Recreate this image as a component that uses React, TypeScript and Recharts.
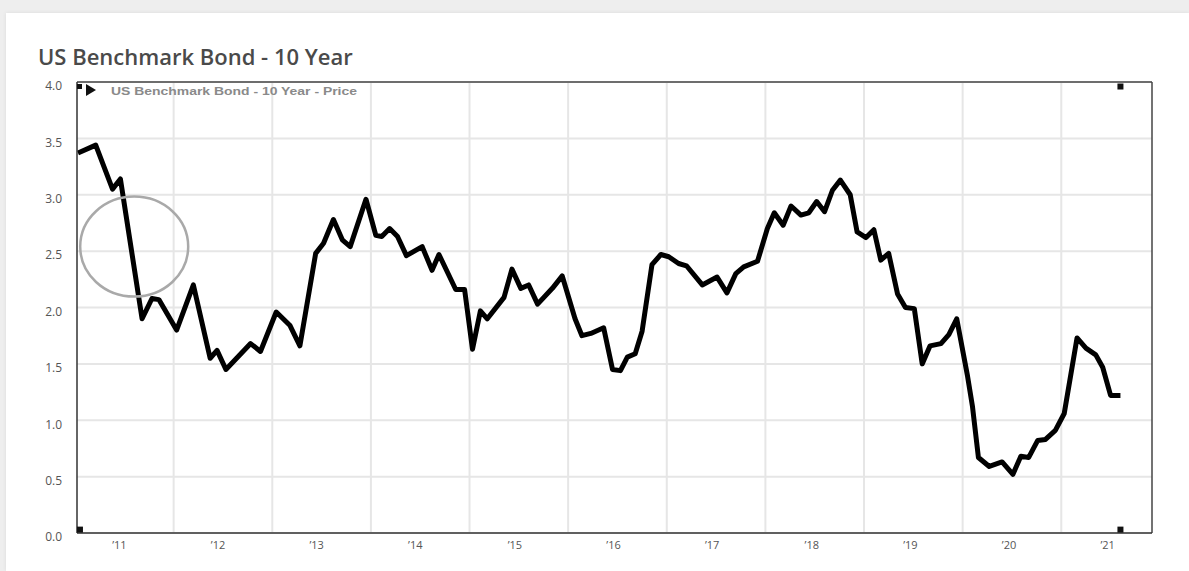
import {
  LineChart,
  Line,
  XAxis,
  YAxis,
  CartesianGrid,
  ReferenceLine,
  ReferenceDot,
  Legend,
} from "recharts";

// decimal year of each reading
const dates = [
  2011.03, 2011.21, 2011.38, 2011.46, 2011.68, 2011.78, 2011.85, 2012.03,
  2012.2, 2012.37, 2012.44, 2012.53, 2012.78, 2012.88, 2013.04, 2013.18,
  2013.28, 2013.44, 2013.52, 2013.62, 2013.71, 2013.79, 2013.95, 2014.05,
  2014.11, 2014.19, 2014.27, 2014.36, 2014.52, 2014.62, 2014.69, 2014.86,
  2014.95, 2015.03, 2015.11, 2015.18, 2015.35, 2015.43, 2015.52, 2015.6,
  2015.69, 2015.84, 2015.94, 2016.07, 2016.14, 2016.23, 2016.36, 2016.45,
  2016.53, 2016.6, 2016.68, 2016.75, 2016.85, 2016.94, 2017.02, 2017.12,
  2017.2, 2017.36, 2017.51, 2017.61, 2017.7, 2017.78, 2017.92, 2018.02,
  2018.09, 2018.18, 2018.26, 2018.36, 2018.44, 2018.52, 2018.6, 2018.68,
  2018.76, 2018.86, 2018.93, 2019.02, 2019.1, 2019.17, 2019.25, 2019.34,
  2019.42, 2019.51, 2019.59, 2019.67, 2019.78, 2019.86, 2019.94, 2020.05,
  2020.1, 2020.16, 2020.27, 2020.4, 2020.51, 2020.59, 2020.67, 2020.76,
  2020.84, 2020.94, 2021.03, 2021.16, 2021.25, 2021.35, 2021.42, 2021.5,
  2021.6,
];

// yield (%)
const prices = [
  3.37, 3.44, 3.05, 3.14, 1.9, 2.08, 2.07, 1.8, 2.2, 1.55, 1.62, 1.45, 1.68,
  1.61, 1.96, 1.84, 1.66, 2.48, 2.57, 2.78, 2.6, 2.54, 2.96, 2.64, 2.63, 2.7,
  2.63, 2.46, 2.54, 2.33, 2.47, 2.16, 2.16, 1.63, 1.97, 1.9, 2.09, 2.34, 2.17,
  2.2, 2.03, 2.17, 2.28, 1.9, 1.75, 1.77, 1.82, 1.45, 1.44, 1.56, 1.59, 1.79,
  2.38, 2.47, 2.45, 2.39, 2.37, 2.2, 2.27, 2.13, 2.3, 2.36, 2.41, 2.7, 2.84,
  2.73, 2.9, 2.82, 2.84, 2.94, 2.85, 3.04, 3.13, 3.0, 2.67, 2.62, 2.69, 2.42,
  2.48, 2.12, 2.0, 1.99, 1.5, 1.66, 1.68, 1.76, 1.9, 1.39, 1.12, 0.67, 0.59,
  0.63, 0.52, 0.68, 0.67, 0.82, 0.83, 0.91, 1.06, 1.73, 1.64, 1.58, 1.47,
  1.22, 1.22,
];

const xDomain = [2011.02, 2021.92];
const yearTicks = [
  2011.45, 2012.45, 2013.45, 2014.45, 2015.46, 2016.46, 2017.46, 2018.47,
  2019.47, 2020.47, 2021.47,
];
const yearLabels = ["’11", "’12", "’13", "’14", "’15", "’16", "’17", "’18", "’19", "’20", "’21"];
const yearLines = [2012, 2013, 2014, 2015, 2016, 2017, 2018, 2019, 2020, 2021];
const yTicks = [0, 0.5, 1, 1.5, 2, 2.5, 3, 3.5, 4];

// highlight ring around the 2011 drop
const highlight = { t: 2011.6, v: 2.54 };

const data = dates.map((t, i) => ({ t, price: prices[i] }));

const square = (p: any) => (
  <rect x={p.cx - 3} y={p.cy - 3} width={6} height={6} fill="#111" />
);

const LegendBox = () => (
  <svg width={300} height={20} style={{ display: "block" }}>
    <rect x={1} y={3} width={5} height={5} fill="#111" />
    <path d="M10 3 L20 9 L10 15 Z" fill="#111" />
    <text
      x={35}
      y={14}
      fontSize={10}
      fontWeight={600}
      fontFamily="Liberation Sans, Arial, sans-serif"
      fill="#8a8a8a"
      textLength={246}
      lengthAdjust="spacingAndGlyphs"
    >
      US Benchmark Bond - 10 Year - Price
    </text>
  </svg>
);

export default function App() {
  return (
    <div
      style={{
        position: "fixed",
        left: 0,
        top: 0,
        width: 1189,
        height: 571,
        background: "#eeeeee",
        overflow: "hidden",
      }}
    >
      <div
        style={{
          position: "absolute",
          left: 6,
          top: 13,
          right: 0,
          bottom: 0,
          background: "#fff",
          boxShadow: "0 0 4px rgba(0,0,0,0.08)",
        }}
      />
      <div
        style={{
          position: "absolute",
          left: 38,
          top: 41,
          fontFamily: "'Open Sans', sans-serif",
          fontWeight: 600,
          fontSize: 22,
          color: "#4a4a4a",
          whiteSpace: "nowrap",
        }}
      >
        US Benchmark Bond - 10 Year
      </div>
      <div style={{ position: "absolute", left: 0, top: 0 }}>
        <LineChart
          width={1189}
          height={571}
          data={data}
          margin={{ top: 82, right: 37, left: 17, bottom: 8 }}
        >
          <CartesianGrid vertical={false} stroke="#e6e6e6" strokeWidth={2} />
          {yearLines.map((y) => (
            <ReferenceLine key={y} x={y} stroke="#e6e6e6" strokeWidth={2} />
          ))}
          <XAxis
            dataKey="t"
            type="number"
            domain={xDomain}
            ticks={yearTicks}
            tickFormatter={(_v, i) => yearLabels[i]}
            allowDataOverflow
            height={30}
            tickLine={false}
            tickSize={6}
            tickMargin={2}
            axisLine={{ stroke: "#333", strokeWidth: 1.5 }}
            tick={{ fill: "#555", fontSize: 11, fontFamily: "'Open Sans', sans-serif" }}
          />
          <YAxis
            type="number"
            domain={[0, 4]}
            ticks={yTicks}
            tickFormatter={(v) => v.toFixed(1)}
            width={60}
            tickLine={false}
            tickSize={6}
            tickMargin={9}
            axisLine={{ stroke: "#333", strokeWidth: 1.5 }}
            tick={{ fill: "#555", fontSize: 12, fontFamily: "'Open Sans', sans-serif", dy: 4 }}
          />
          <ReferenceLine y={4} stroke="#444" strokeWidth={1.5} />
          <ReferenceLine x={xDomain[1]} stroke="#444" strokeWidth={1.5} />
          <ReferenceDot
            x={highlight.t}
            y={highlight.v}
            r={50}
            shape={(p: any) => (
              <ellipse
                cx={p.cx}
                cy={p.cy}
                rx={54}
                ry={50}
                fill="none"
                stroke="#a9a9a9"
                strokeWidth={2.5}
              />
            )}
          />
          <ReferenceDot x={2021.6} y={3.96} r={3} shape={square} />
          <ReferenceDot x={2021.6} y={0.03} r={3} shape={square} />
          <ReferenceDot x={2011.05} y={0.03} r={3} shape={square} />
          <Line
            type="linear"
            dataKey="price"
            stroke="#000"
            strokeWidth={5}
            strokeLinejoin="round"
            dot={false}
            activeDot={false}
            isAnimationActive={false}
          />
          <Legend
            layout="horizontal"
            verticalAlign="middle"
            align="center"
            content={() => <LegendBox />}
            wrapperStyle={{ left: 76, top: 81, width: 300, height: 20 }}
          />
        </LineChart>
      </div>
    </div>
  );
}
